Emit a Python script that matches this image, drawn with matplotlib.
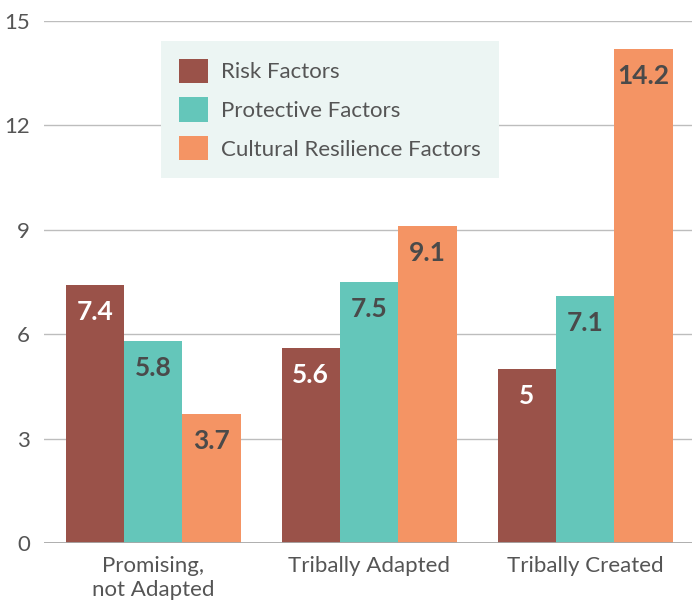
import numpy as np
import matplotlib.pyplot as plt

groups = ['Promising,\nnot Adapted', 'Tribally Adapted', 'Tribally Created']
series = ['Risk Factors', 'Protective Factors', 'Cultural Resilience Factors']
risk = [7.4, 5.6, 5]
protective = [5.8, 7.5, 7.1]
cultural = [3.7, 9.1, 14.2]
labels_risk = ['7.4', '5.6', '5']
labels_prot = ['5.8', '7.5', '7.1']
labels_cult = ['3.7', '9.1', '14.2']

colors = ['#9a5249', '#64c6ba', '#f49464']
text_colors = ['white', '#4a4a4a', '#4a4a4a']

plt.rcParams['font.family'] = ['Lato', 'DejaVu Sans']

fig = plt.figure(figsize=(6.92, 6.07), dpi=100)
ax = fig.add_axes([44/692, 64/607, 648/692, 522/607])

x = np.arange(len(groups))
w = 0.27
data = [(risk, labels_risk), (protective, labels_prot), (cultural, labels_cult)]
for i, (vals, labs) in enumerate(data):
    xs = x + (i - 1) * w
    ax.bar(xs, vals, w, color=colors[i], label=series[i], zorder=2)
    for xi, v, lab in zip(xs, vals, labs):
        ax.annotate(lab, (xi, v), xytext=(0, -27), textcoords='offset pixels',
                    ha='center', va='center', fontsize=19, fontweight='bold',
                    color=text_colors[i], zorder=3)

ax.set_xlim(-0.505, 2.495)
ax.set_ylim(0, 15)
ax.set_yticks([0, 3, 6, 9, 12, 15])
ax.set_xticks(x)
ax.set_xticklabels(groups, linespacing=1.3)
ax.tick_params(length=0, labelsize=16, colors='#555555', pad=9)
ax.tick_params(axis='y', pad=10)
for s in ax.spines.values():
    s.set_visible(False)
ax.grid(axis='y', color='#bdbdbd', linewidth=1, zorder=0)
ax.set_axisbelow(True)
ax.axhline(0, color='#a8a8a8', linewidth=2, zorder=4)

leg = ax.legend(loc='upper left', bbox_to_anchor=((161-44)/648, (543-41)/522),
                borderaxespad=0, fontsize=16, frameon=True, fancybox=False,
                handlelength=1.3, handleheight=1.3, handletextpad=0.6,
                labelspacing=0.65, borderpad=0.8, labelcolor='#555555')
leg.get_frame().set_facecolor('#ecf5f3')
leg.get_frame().set_edgecolor('none')
leg.get_frame().set_alpha(1)

fig.savefig('out.png', dpi=100)
